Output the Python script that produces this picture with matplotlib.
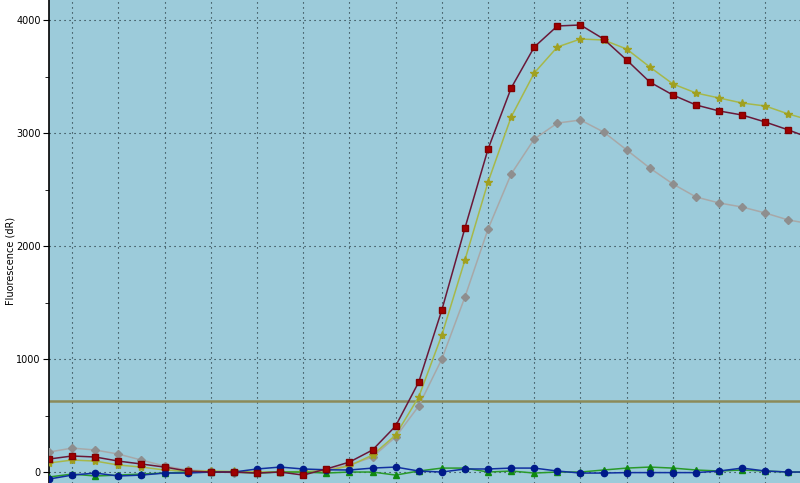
import numpy as np
import matplotlib
matplotlib.use("Agg")
import matplotlib.pyplot as plt
from matplotlib.ticker import MultipleLocator

# cycle numbers (first cycle sits on the y axis)
cycles = np.arange(1, 35)

# fluorescence (dR)
red = [115, 142, 133, 97, 71, 44, 9, 0, 0, -9, 0, -27, 27, 88, 195, 407,
       796, 1434, 2159, 2858, 3398, 3761, 3947, 3956, 3832, 3646, 3451,
       3336, 3248, 3195, 3159, 3097, 3027, 2950]
olive = [80, 106, 97, 62, 44, 18, 9, 9, 5, 0, 0, 5, 10, 55, 150, 327,
         664, 1212, 1876, 2566, 3142, 3531, 3761, 3832, 3823, 3743, 3584,
         3434, 3354, 3310, 3265, 3239, 3168, 3110]
gray = [177, 212, 195, 159, 106, 53, 18, 9, -9, 0, 0, -5, 18, 62, 133, 310,
        584, 1000, 1549, 2150, 2637, 2947, 3088, 3115, 3009, 2850, 2690,
        2549, 2434, 2381, 2345, 2292, 2230, 2195]
blue = [-62, -27, -9, -35, -27, -9, -9, 0, 0, 27, 44, 27, 20, 18, 35, 44,
        9, 0, 27, 27, 35, 35, 9, -9, -9, -5, -5, -5, -5, 9, 35, 9, 0, 0]
green = [-44, -18, -35, -27, -18, -9, 0, 0, 0, -9, 0, 0, -9, 0, 0, -27,
         9, 35, 35, 0, 9, -9, 0, 0, 18, 35, 44, 35, 18, 9, 18, 9, 0, 0]
threshold = 628

fig = plt.figure(figsize=(8, 4.83), dpi=100)
ax = fig.add_axes([49 / 800, 0, 751 / 800, 1])
ax.set_facecolor('#9ccbda')

ax.plot(cycles, gray, color='#a8a8a8', lw=1.1, marker='D', ms=4,
        mfc='#8e8e8e', mec='#8e8e8e', zorder=3)
ax.plot(cycles, olive, color='#a6b84a', lw=1.1, marker='*', ms=6,
        mfc='#a0a020', mec='#a0a020', zorder=4)
ax.plot(cycles, red, color='#6a1838', lw=1.1, marker='s', ms=4.5,
        mfc='#a00000', mec='#800000', zorder=5)
ax.plot(cycles, green, color='#2a9a2a', lw=1.1, marker='^', ms=4.5,
        mfc='#108a10', mec='#108a10', zorder=4)
ax.plot(cycles, blue, color='#1030a0', lw=1.1, marker='o', ms=4.5,
        mfc='#001a8a', mec='#001a8a', zorder=4)
ax.axhline(threshold, color='#8c8a58', lw=1.8, zorder=2)

ax.set_xlim(1, 33.5)
ax.set_ylim(-97, 4177)
ax.set_xticks(np.arange(2, 34, 2))
ax.tick_params(axis='x', length=0, labelbottom=False)
ax.yaxis.set_major_locator(MultipleLocator(1000))
ax.yaxis.set_minor_locator(MultipleLocator(500))
ax.tick_params(axis='y', which='major', length=4, labelsize=7, pad=2)
ax.tick_params(axis='y', which='minor', length=3)
ax.grid(True, which='major', color='#1a2a30', ls=(0, (1, 3.5)), lw=0.8)

for side in ['top', 'right', 'bottom']:
    ax.spines[side].set_visible(False)
ax.spines['left'].set_linewidth(1.2)

ax.set_ylabel('Fluorescence (dR)', fontsize=7)
ax.yaxis.set_label_coords(-0.045, 0.46)

fig.savefig('out.png', dpi=100)
